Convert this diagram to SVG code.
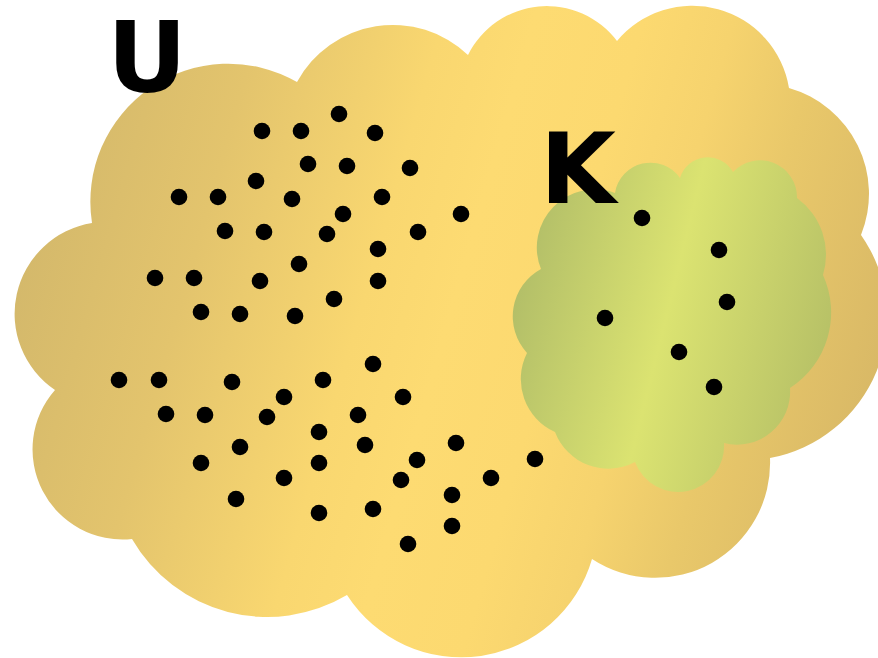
<svg xmlns="http://www.w3.org/2000/svg" width="878" height="658" viewBox="0 0 878 658">
<style>
.dot{fill:#000}
.lbl{font-family:"DejaVu Sans","Liberation Sans",sans-serif;font-weight:bold;font-size:98px;fill:#000;text-anchor:middle}
</style>
<defs>
<linearGradient id="gU" gradientUnits="userSpaceOnUse" x1="20" y1="230" x2="860" y2="470">
<stop offset="0" stop-color="#d3b86b"/>
<stop offset="0.2" stop-color="#e3c46d"/>
<stop offset="0.4" stop-color="#f9d770"/>
<stop offset="0.5" stop-color="#fddb72"/>
<stop offset="0.62" stop-color="#fcd970"/>
<stop offset="0.72" stop-color="#f6d36e"/>
<stop offset="0.82" stop-color="#e9c86a"/>
<stop offset="1" stop-color="#d8b866"/>
</linearGradient>
<linearGradient id="gK" gradientUnits="userSpaceOnUse" x1="515" y1="282" x2="835" y2="362">
<stop offset="0" stop-color="#b2be68"/>
<stop offset="0.47" stop-color="#dbe371"/>
<stop offset="1" stop-color="#b5bf66"/>
</linearGradient>
</defs>
<g id="cloudU">
<path fill="url(#gU)" d="M92 223 A138 138 0 0 1 297 82 A109 109 0 0 1 468 55 A88 88 0 0 1 617 41 A98 98 0 0 1 789 88 A110 110 0 0 1 861 235 A143 143 0 0 1 770 458 A115 115 0 0 1 592 559 A136 136 0 0 1 347 595 A156 156 0 0 1 132 539 A90 90 0 0 1 55 390 A92 92 0 0 1 92 223 Z"/>
</g>
<g id="cloudK">
<path fill="url(#gK)" d="M615 193 A36 36 0 0 1 680 178 A29 29 0 0 1 733 172 A37 37 0 0 1 797 198 A70 70 0 0 1 823 275 A90 90 0 0 1 790 388 A53 53 0 0 1 724 443 A46 46 0 0 1 635 462 A57 57 0 0 1 555 432 A58 58 0 0 1 527 353 A54 54 0 0 1 541 269 A58 58 0 0 1 615 193 Z"/>
</g>
<g id="labelU"><text class="lbl" x="147" y="92">U</text></g>
<g id="labelK"><text class="lbl" x="578" y="203">K</text></g>
<g id="dotsU" class="dot">
<circle cx="262" cy="131" r="8.3"/><circle cx="301" cy="131" r="8.3"/><circle cx="339" cy="114" r="8.3"/><circle cx="375" cy="133" r="8.3"/>
<circle cx="308" cy="164" r="8.3"/><circle cx="347" cy="166" r="8.3"/><circle cx="410" cy="168" r="8.3"/><circle cx="256" cy="181" r="8.3"/>
<circle cx="179" cy="197" r="8.3"/><circle cx="218" cy="197" r="8.3"/><circle cx="292" cy="199" r="8.3"/><circle cx="382" cy="197" r="8.3"/>
<circle cx="343" cy="214" r="8.3"/><circle cx="461" cy="214" r="8.3"/><circle cx="225" cy="231" r="8.3"/><circle cx="264" cy="232" r="8.3"/>
<circle cx="327" cy="234" r="8.3"/><circle cx="418" cy="232" r="8.3"/><circle cx="378" cy="249" r="8.3"/><circle cx="299" cy="264" r="8.3"/>
<circle cx="155" cy="278" r="8.3"/><circle cx="194" cy="278" r="8.3"/><circle cx="260" cy="281" r="8.3"/><circle cx="378" cy="281" r="8.3"/>
<circle cx="334" cy="299" r="8.3"/><circle cx="201" cy="312" r="8.3"/><circle cx="240" cy="314" r="8.3"/><circle cx="295" cy="316" r="8.3"/>
<circle cx="119" cy="380" r="8.3"/><circle cx="159" cy="380" r="8.3"/><circle cx="232" cy="382" r="8.3"/><circle cx="323" cy="380" r="8.3"/>
<circle cx="373" cy="364" r="8.3"/><circle cx="284" cy="397" r="8.3"/><circle cx="403" cy="397" r="8.3"/><circle cx="166" cy="414" r="8.3"/>
<circle cx="205" cy="415" r="8.3"/><circle cx="267" cy="417" r="8.3"/><circle cx="358" cy="415" r="8.3"/><circle cx="319" cy="432" r="8.3"/>
<circle cx="365" cy="445" r="8.3"/><circle cx="240" cy="447" r="8.3"/><circle cx="201" cy="463" r="8.3"/><circle cx="319" cy="463" r="8.3"/>
<circle cx="417" cy="460" r="8.3"/><circle cx="401" cy="480" r="8.3"/><circle cx="284" cy="478" r="8.3"/><circle cx="236" cy="499" r="8.3"/>
<circle cx="319" cy="513" r="8.3"/><circle cx="373" cy="509" r="8.3"/><circle cx="408" cy="544" r="8.3"/><circle cx="456" cy="443" r="8.3"/>
<circle cx="491" cy="478" r="8.3"/><circle cx="535" cy="459" r="8.3"/><circle cx="452" cy="495" r="8.3"/><circle cx="452" cy="526" r="8.3"/>
</g>
<g id="dotsK" class="dot">
<circle cx="642" cy="218" r="8.3"/><circle cx="719" cy="250" r="8.3"/><circle cx="727" cy="302" r="8.3"/>
<circle cx="605" cy="318" r="8.3"/><circle cx="679" cy="352" r="8.3"/><circle cx="714" cy="387" r="8.3"/>
</g>
</svg>
